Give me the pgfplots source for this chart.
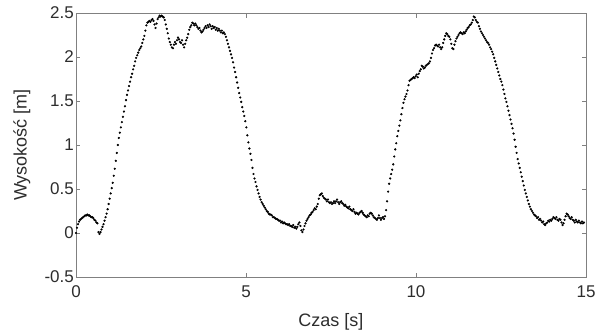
\documentclass[border=0pt]{standalone}
\usepackage{fontspec}
\setmainfont{Liberation Sans}
\usepackage{pgfplots}
\pgfplotsset{compat=1.18}
\definecolor{axgray}{RGB}{128,128,128}
\definecolor{txt}{RGB}{45,45,45}
\begin{document}
\begin{tikzpicture}
\begin{axis}[
  scale only axis,
  width=510pt, height=264pt,
  xmin=0, xmax=15, ymin=-0.5, ymax=2.5,
  xtick={0,5,10,15},
  ytick={-0.5,0,0.5,1,1.5,2,2.5},
  yticklabels={-0.5,0,0.5,1,1.5,2,2.5},
  xticklabels={0,5,10,15},
  tick align=inside,
  tick pos=both,
  major tick length=4.5pt,
  axis line style={axgray, line width=0.7pt},
  every tick/.style={axgray, line width=0.7pt},
  tick label style={font=\fontsize{17}{19}\selectfont, text=txt},
  yticklabel style={inner sep=2pt},
  xticklabel style={yshift=-5pt},
  label style={font=\fontsize{18}{20}\selectfont, text=txt},
  xlabel={Czas [s]},
  ylabel={Wysokość [m]},
  xlabel style={at={(axis description cs:0.5,-0.170)}, anchor=center},
  ylabel style={at={(axis description cs:-0.106,0.5)}, anchor=center},
  /pgf/number format/assume math mode=true,
]
\addplot[only marks, mark=*, mark size=0.9pt, black] table[x=x, y=y] {
x y
0.00 0.00
0.03 0.06
0.06 0.10
0.09 0.13
0.12 0.15
0.15 0.16
0.18 0.17
0.21 0.18
0.24 0.19
0.27 0.20
0.30 0.20
0.33 0.21
0.36 0.20
0.39 0.20
0.42 0.19
0.45 0.18
0.48 0.18
0.51 0.17
0.54 0.15
0.57 0.14
0.60 0.12
0.63 0.11
0.66 0.01
0.69 -0.01
0.72 0.01
0.75 0.04
0.78 0.07
0.81 0.10
0.84 0.14
0.87 0.18
0.90 0.22
0.93 0.27
0.96 0.33
0.99 0.39
1.02 0.45
1.05 0.51
1.08 0.57
1.11 0.65
1.14 0.73
1.17 0.82
1.20 0.91
1.23 1.00
1.26 1.08
1.29 1.14
1.32 1.20
1.35 1.26
1.38 1.32
1.41 1.38
1.44 1.44
1.47 1.51
1.50 1.57
1.53 1.62
1.56 1.67
1.59 1.72
1.62 1.77
1.65 1.81
1.68 1.86
1.71 1.90
1.74 1.95
1.77 1.99
1.80 2.02
1.83 2.05
1.86 2.08
1.89 2.10
1.92 2.12
1.95 2.16
1.98 2.20
2.01 2.24
2.04 2.30
2.07 2.36
2.10 2.39
2.13 2.40
2.16 2.41
2.19 2.40
2.22 2.42
2.25 2.43
2.28 2.41
2.31 2.37
2.34 2.33
2.37 2.38
2.40 2.43
2.43 2.45
2.46 2.47
2.49 2.46
2.52 2.47
2.55 2.46
2.58 2.45
2.61 2.42
2.64 2.37
2.67 2.32
2.70 2.27
2.73 2.21
2.76 2.17
2.79 2.14
2.82 2.11
2.85 2.10
2.88 2.14
2.91 2.17
2.94 2.15
2.97 2.19
3.00 2.22
3.03 2.20
3.06 2.17
3.09 2.16
3.12 2.19
3.15 2.14
3.18 2.11
3.21 2.15
3.24 2.19
3.27 2.22
3.30 2.26
3.33 2.31
3.36 2.34
3.39 2.36
3.42 2.39
3.45 2.38
3.48 2.36
3.51 2.38
3.54 2.36
3.57 2.34
3.60 2.32
3.63 2.33
3.66 2.30
3.69 2.28
3.72 2.29
3.75 2.31
3.78 2.33
3.81 2.35
3.84 2.33
3.87 2.36
3.90 2.34
3.93 2.37
3.96 2.35
3.99 2.32
4.02 2.35
4.05 2.33
4.08 2.34
4.11 2.31
4.14 2.33
4.17 2.30
4.20 2.32
4.23 2.30
4.26 2.28
4.29 2.30
4.32 2.27
4.35 2.28
4.38 2.26
4.41 2.23
4.44 2.19
4.47 2.15
4.50 2.11
4.53 2.07
4.56 2.03
4.59 1.99
4.62 1.94
4.65 1.88
4.68 1.83
4.71 1.77
4.74 1.71
4.77 1.65
4.80 1.59
4.83 1.54
4.86 1.49
4.89 1.43
4.92 1.38
4.95 1.33
4.98 1.27
5.01 1.20
5.04 1.11
5.07 1.03
5.10 0.96
5.13 0.90
5.16 0.83
5.19 0.74
5.22 0.67
5.25 0.62
5.28 0.58
5.31 0.53
5.34 0.49
5.37 0.45
5.40 0.41
5.43 0.38
5.46 0.35
5.49 0.33
5.52 0.31
5.55 0.29
5.58 0.27
5.61 0.25
5.64 0.24
5.67 0.22
5.70 0.21
5.73 0.21
5.76 0.20
5.79 0.18
5.82 0.18
5.85 0.17
5.88 0.16
5.91 0.16
5.94 0.15
5.97 0.14
6.00 0.14
6.03 0.12
6.06 0.13
6.09 0.11
6.12 0.12
6.15 0.11
6.18 0.10
6.21 0.10
6.24 0.09
6.27 0.10
6.30 0.08
6.33 0.08
6.36 0.07
6.39 0.09
6.42 0.06
6.45 0.07
6.48 0.05
6.51 0.07
6.54 0.10
6.57 0.12
6.60 0.08
6.63 0.03
6.66 0.01
6.69 0.04
6.72 0.08
6.75 0.11
6.78 0.14
6.81 0.16
6.84 0.18
6.87 0.20
6.90 0.21
6.93 0.23
6.96 0.24
6.99 0.26
7.02 0.28
7.05 0.27
7.08 0.30
7.11 0.33
7.14 0.39
7.17 0.43
7.20 0.44
7.23 0.45
7.26 0.42
7.29 0.40
7.32 0.39
7.35 0.38
7.38 0.36
7.41 0.38
7.44 0.35
7.47 0.34
7.50 0.35
7.53 0.33
7.56 0.34
7.59 0.36
7.62 0.34
7.65 0.36
7.68 0.38
7.71 0.35
7.74 0.33
7.77 0.35
7.80 0.36
7.83 0.34
7.86 0.33
7.89 0.31
7.92 0.32
7.95 0.30
7.98 0.29
8.01 0.28
8.04 0.30
8.07 0.27
8.10 0.26
8.13 0.25
8.16 0.27
8.19 0.24
8.22 0.22
8.25 0.23
8.28 0.22
8.31 0.21
8.34 0.23
8.37 0.24
8.40 0.25
8.43 0.23
8.46 0.21
8.49 0.20
8.52 0.19
8.55 0.18
8.58 0.20
8.61 0.19
8.64 0.22
8.67 0.23
8.70 0.22
8.73 0.20
8.76 0.18
8.79 0.17
8.82 0.16
8.85 0.15
8.88 0.17
8.91 0.20
8.94 0.17
8.97 0.15
9.00 0.17
9.03 0.18
9.06 0.16
9.09 0.19
9.12 0.26
9.15 0.36
9.18 0.47
9.21 0.56
9.24 0.62
9.27 0.67
9.30 0.72
9.33 0.78
9.36 0.87
9.39 0.95
9.42 1.02
9.45 1.10
9.48 1.16
9.51 1.22
9.54 1.28
9.57 1.35
9.60 1.42
9.63 1.48
9.66 1.52
9.69 1.55
9.72 1.58
9.75 1.62
9.78 1.68
9.81 1.73
9.84 1.74
9.87 1.75
9.90 1.76
9.93 1.77
9.96 1.76
9.99 1.78
10.02 1.80
10.05 1.77
10.08 1.81
10.11 1.84
10.14 1.86
10.17 1.90
10.20 1.89
10.23 1.87
10.26 1.88
10.29 1.90
10.32 1.91
10.35 1.92
10.38 1.93
10.41 1.95
10.44 1.99
10.47 2.04
10.50 2.08
10.53 2.10
10.56 2.13
10.59 2.14
10.62 2.13
10.65 2.12
10.68 2.14
10.71 2.11
10.74 2.09
10.77 2.11
10.80 2.16
10.83 2.20
10.86 2.24
10.89 2.27
10.92 2.26
10.95 2.24
10.98 2.23
11.01 2.20
11.04 2.15
11.07 2.10
11.10 2.09
11.13 2.14
11.16 2.18
11.19 2.21
11.22 2.23
11.25 2.25
11.28 2.27
11.31 2.28
11.34 2.27
11.37 2.26
11.40 2.28
11.43 2.27
11.46 2.29
11.49 2.31
11.52 2.33
11.55 2.34
11.58 2.36
11.61 2.37
11.64 2.39
11.67 2.42
11.70 2.46
11.73 2.45
11.76 2.42
11.79 2.40
11.82 2.39
11.85 2.35
11.88 2.32
11.91 2.29
11.94 2.27
11.97 2.25
12.00 2.23
12.03 2.21
12.06 2.19
12.09 2.17
12.12 2.16
12.15 2.14
12.18 2.11
12.21 2.09
12.24 2.06
12.27 2.03
12.30 1.99
12.33 1.95
12.36 1.91
12.39 1.87
12.42 1.83
12.45 1.79
12.48 1.75
12.51 1.72
12.54 1.68
12.57 1.63
12.60 1.58
12.63 1.53
12.66 1.49
12.69 1.44
12.72 1.39
12.75 1.34
12.78 1.29
12.81 1.24
12.84 1.19
12.87 1.13
12.90 1.06
12.93 0.98
12.96 0.91
12.99 0.84
13.02 0.79
13.05 0.74
13.08 0.69
13.11 0.64
13.14 0.59
13.17 0.54
13.20 0.49
13.23 0.45
13.26 0.41
13.29 0.37
13.32 0.33
13.35 0.30
13.38 0.27
13.41 0.25
13.44 0.23
13.47 0.21
13.50 0.20
13.53 0.19
13.56 0.17
13.59 0.18
13.62 0.15
13.65 0.16
13.68 0.14
13.71 0.12
13.74 0.13
13.77 0.10
13.80 0.09
13.83 0.11
13.86 0.12
13.89 0.14
13.92 0.13
13.95 0.15
13.98 0.14
14.01 0.16
14.04 0.18
14.07 0.17
14.10 0.16
14.13 0.18
14.16 0.15
14.19 0.14
14.22 0.16
14.25 0.15
14.28 0.12
14.31 0.09
14.34 0.11
14.37 0.15
14.40 0.19
14.43 0.22
14.46 0.21
14.49 0.19
14.52 0.17
14.55 0.16
14.58 0.18
14.61 0.15
14.64 0.14
14.67 0.12
14.70 0.15
14.73 0.13
14.76 0.12
14.79 0.14
14.82 0.12
14.85 0.11
14.88 0.13
14.91 0.11
14.94 0.12
};
\end{axis}
\pgfresetboundingbox
\path ([shift={(-76pt,-58pt)}]current axis.south west) rectangle ([shift={(22pt,13pt)}]current axis.north east);
\end{tikzpicture}
\end{document}
